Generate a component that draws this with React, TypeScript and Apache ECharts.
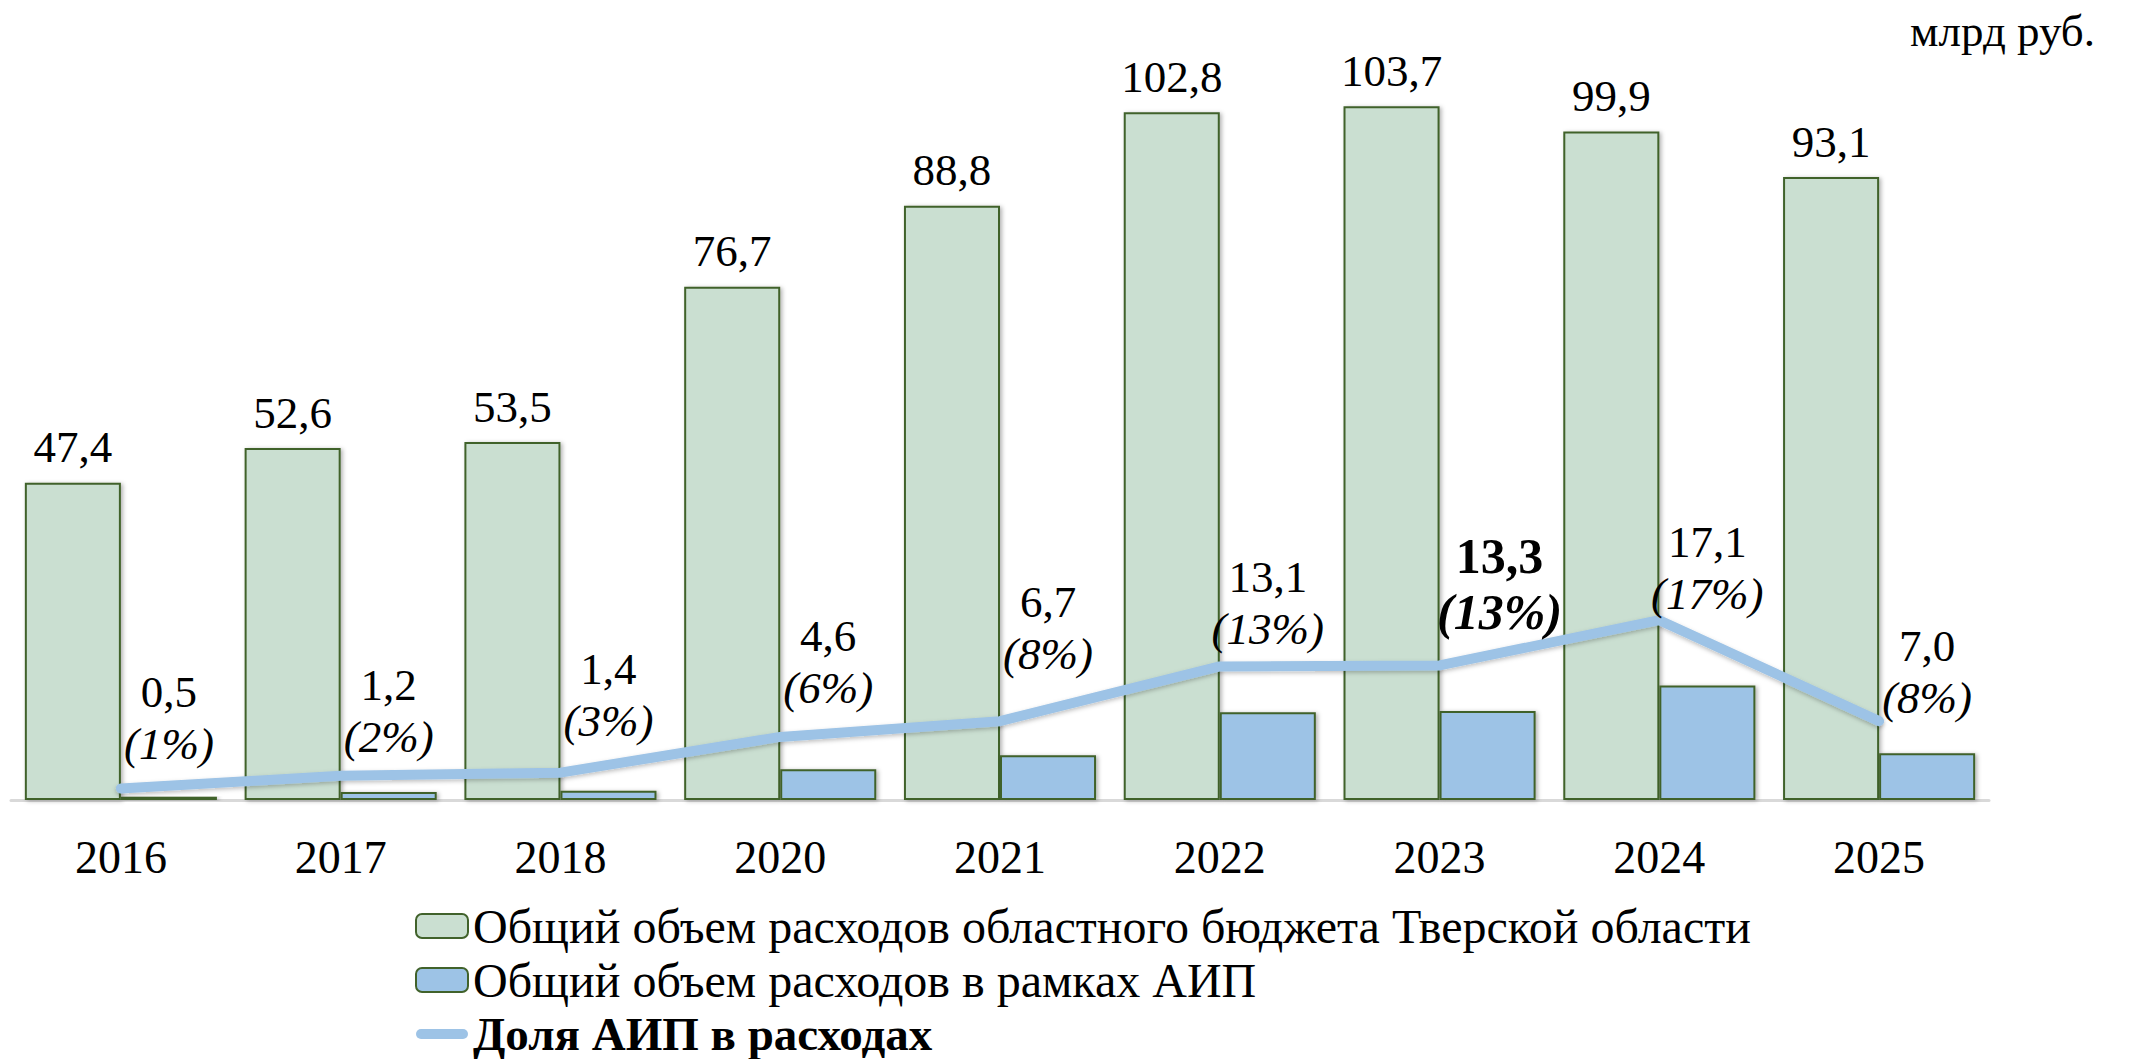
import React, { useEffect, useRef } from "react";
import * as echarts from "echarts";

const years = ["2016", "2017", "2018", "2020", "2021", "2022", "2023", "2024", "2025"];
const totalSpending = [47.4, 52.6, 53.5, 76.7, 88.8, 102.8, 103.7, 99.9, 93.1];
const aipSpending = [0.5, 1.2, 1.4, 4.6, 6.7, 13.1, 13.3, 17.1, 7.0];
const aipShare = [1.1, 2.3, 2.6, 6.0, 7.5, 12.7, 12.8, 17.1, 7.5];
const shareLabels = ["1%", "2%", "3%", "6%", "8%", "13%", "13%", "17%", "8%"];
const highlightIndex = 6;

const seriesNames = [
  "Общий объем расходов областного бюджета Тверской области",
  "Общий объем расходов в рамках АИП",
  "Доля АИП в расходах",
];
const unitLabel = "млрд руб.";

// label lift above the line point (style only)
const labelLift = [18, 13, 26, 23, 41, 11, 25, 0, -3];

const FONT = "Liberation Serif, serif";
const fmt = (v: number) => v.toFixed(1).replace(".", ",");

export default function App() {
  const ref = useRef<HTMLDivElement>(null);
  useEffect(() => {
    if (!ref.current) return;
    const chart = echarts.init(ref.current, null, { renderer: "svg" });
    const border = "#41622B";
    const shadow = {
      shadowColor: "rgba(0,0,0,0.3)",
      shadowBlur: 4,
      shadowOffsetX: 2,
      shadowOffsetY: 1,
    };
    chart.setOption({
      animation: false,
      textStyle: { fontFamily: FONT, color: "#000" },
      grid: { left: 11, right: 144, top: 64, bottom: 259, containLabel: false },
      legend: {
        orient: "vertical",
        left: 415,
        top: 902,
        padding: 0,
        itemWidth: 52,
        itemHeight: 24,
        itemGap: 6,
        textStyle: { fontFamily: FONT, fontSize: 48, lineHeight: 48, color: "#000" },
        data: [
          { name: seriesNames[0] },
          { name: seriesNames[1] },
          {
            name: seriesNames[2],
            icon: "path://M5,0 L47,0 A5,5 0 0 1 47,10 L5,10 A5,5 0 0 1 5,0 Z",
            itemStyle: { color: "#9DC3E6", borderWidth: 0 },
            textStyle: { fontWeight: "bold", fontSize: 47, fontFamily: FONT },
          },
        ],
      },
      graphic: [
        {
          type: "text",
          right: 38,
          top: 8,
          style: { text: unitLabel, font: `45px ${FONT}`, fill: "#000" },
        },
      ],
      xAxis: {
        type: "category",
        data: years,
        axisLine: { lineStyle: { color: "#D9D9D9", width: 3 } },
        axisTick: { show: false },
        axisLabel: { fontSize: 46, color: "#000", margin: 34, fontFamily: FONT },
      },
      yAxis: [
        { type: "value", min: 0, max: 110, show: false, splitLine: { show: false } },
        { type: "value", min: 0, max: 70, show: false, splitLine: { show: false } },
      ],
      series: [
        {
          name: seriesNames[0],
          type: "bar",
          yAxisIndex: 0,
          data: totalSpending,
          barGap: "0%",
          barCategoryGap: "12.6%",
          itemStyle: { color: "#CADFD1", borderColor: border, borderWidth: 2, ...shadow },
          label: {
            show: true,
            position: "top",
            distance: 13,
            fontSize: 45,
            lineHeight: 45,
            color: "#000",
            fontFamily: FONT,
            formatter: (p: any) => fmt(p.value),
          },
        },
        {
          name: seriesNames[1],
          type: "bar",
          yAxisIndex: 0,
          data: aipSpending,
          barGap: "0%",
          barCategoryGap: "12.6%",
          itemStyle: { color: "#9DC3E6", borderColor: border, borderWidth: 2, ...shadow },
        },
        {
          name: seriesNames[2],
          type: "line",
          yAxisIndex: 1,
          symbol: "circle",
          symbolSize: 0.1,
          showSymbol: true,
          lineStyle: {
            color: "#9DC3E6",
            width: 10,
            cap: "round",
            join: "round",
            shadowColor: "rgba(0,0,0,0.25)",
            shadowBlur: 4,
            shadowOffsetY: 2,
          },
          itemStyle: { color: "#9DC3E6" },
          data: aipShare.map((v, i) => ({
            value: v,
            label: { offset: [i === highlightIndex ? 60 : 48, -labelLift[i]] },
          })),
          label: {
            show: true,
            position: "top",
            distance: 0,
            align: "center",
            fontFamily: FONT,
            formatter: (p: any) => {
              const i = p.dataIndex;
              if (i === highlightIndex) {
                return `{vb|${fmt(aipSpending[i])}}\n{pb|(${shareLabels[i]})}`;
              }
              return `{v|${fmt(aipSpending[i])}}\n{p|(${shareLabels[i]})}`;
            },
            rich: {
              v: { fontSize: 45, lineHeight: 52, fontFamily: FONT, color: "#000" },
              p: { fontSize: 45, lineHeight: 52, fontStyle: "italic", fontFamily: FONT, color: "#000" },
              vb: { fontSize: 50, lineHeight: 56, fontWeight: "bold", fontFamily: FONT, color: "#000" },
              pb: {
                fontSize: 50,
                lineHeight: 56,
                fontWeight: "bold",
                fontStyle: "italic",
                fontFamily: FONT,
                color: "#000",
              },
            },
          },
          z: 5,
        },
      ],
    });
    return () => chart.dispose();
  }, []);
  return (
    <div
      ref={ref}
      style={{ position: "fixed", left: 0, top: 0, width: 2133, height: 1059, background: "#fff" }}
    />
  );
}
